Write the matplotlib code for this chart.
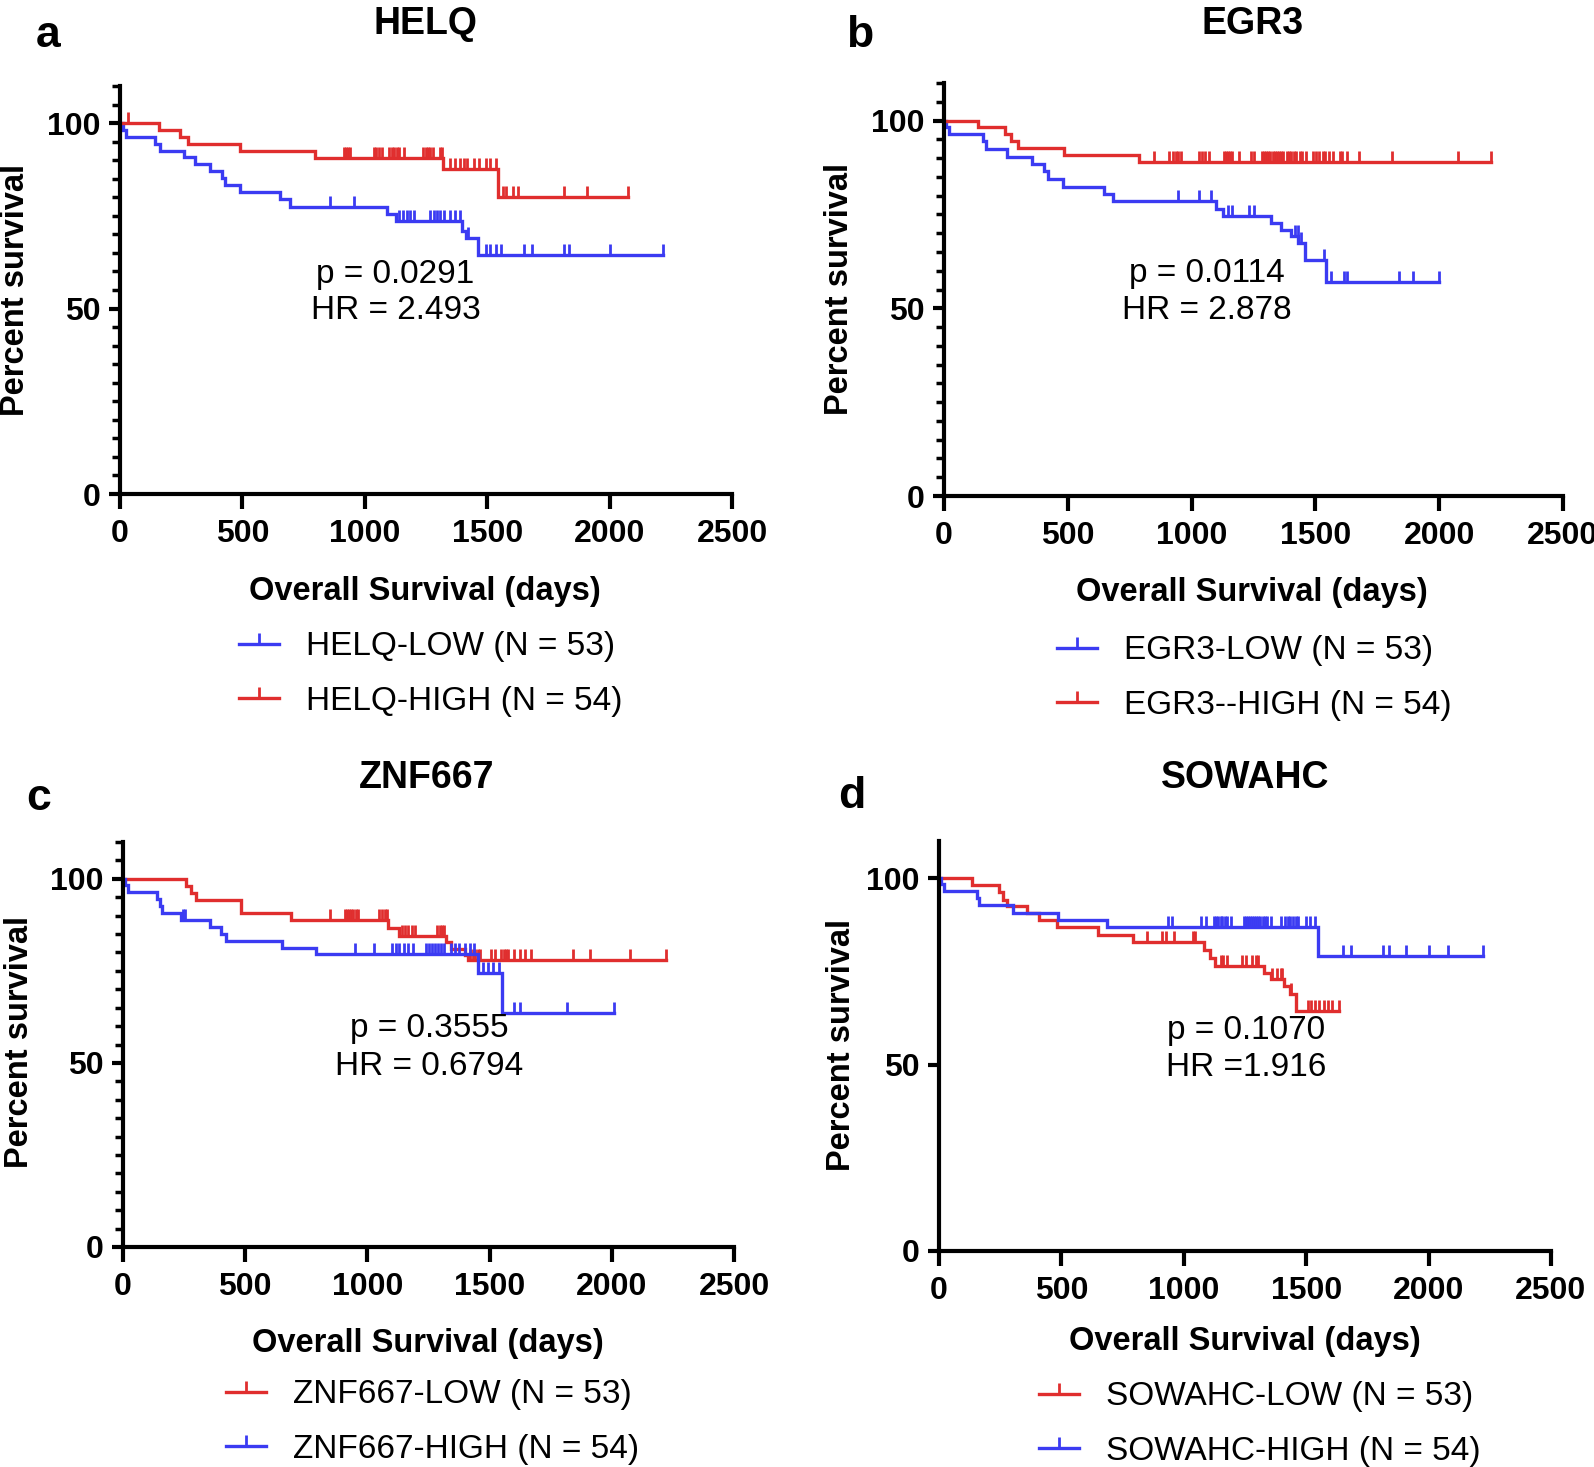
import numpy as np
import matplotlib
matplotlib.use('Agg')
import matplotlib.pyplot as plt
from matplotlib.lines import Line2D

plt.rcParams['font.family'] = ['Liberation Sans', 'DejaVu Sans']

BLUE = '#3b3bf2'
RED = '#e02e2e'

# Kaplan-Meier step curves: step times (days), survival (%) after each step,
# censored times (last one = end of follow-up)

# a - HELQ
helqLowT = [0, 14, 26, 145, 164, 263, 307, 366, 416, 430, 489, 654, 693, 1090, 1129, 1397, 1412, 1462]
helqLowS = [100, 98.1, 96.3, 94.4, 92.6, 90.8, 88.9, 87.0, 85.1, 83.2, 81.3, 79.4, 77.4, 75.4, 73.5, 71.0, 69.0, 64.5]
helqLowCens = [858, 957, 1139, 1155, 1171, 1185, 1199, 1268, 1282, 1296, 1309, 1323, 1347, 1367, 1387,
               1420, 1496, 1511, 1535, 1555, 1650, 1684, 1813, 1836, 2001, 2219]
helqHighT = [0, 158, 244, 277, 489, 798, 1321, 1545]
helqHighS = [100, 98.1, 96.3, 94.4, 92.6, 90.7, 87.7, 80.2]
helqHighCens = [34, 917, 925, 933, 941, 1036, 1044, 1060, 1070, 1100, 1110, 1120, 1130, 1139, 1159, 1238,
                1248, 1258, 1268, 1278, 1307, 1317, 1347, 1367, 1387, 1407, 1416, 1446, 1466, 1496, 1511,
                1535, 1565, 1575, 1605, 1624, 1813, 1908, 2076]

# b - EGR3
egr3LowT = [0, 8, 22, 158, 170, 255, 357, 403, 420, 481, 646, 684, 1097, 1126, 1321, 1360, 1400, 1430, 1460, 1543]
egr3LowS = [100, 98.4, 96.4, 94.5, 92.4, 90.4, 88.4, 86.5, 84.4, 82.4, 80.4, 78.7, 76.4, 74.5, 72.6, 70.9,
            69.2, 67.4, 62.9, 57.0]
egr3LowCens = [947, 1029, 1077, 1148, 1165, 1233, 1250, 1417, 1429, 1440, 1534, 1565, 1616, 1628, 1837, 1896, 1998]
egr3HighT = [0, 136, 247, 272, 298, 485, 787]
egr3HighS = [100, 98.2, 96.4, 94.5, 92.7, 90.8, 89.0]
egr3HighCens = [850, 910, 923, 935, 947, 957, 1029, 1043, 1054, 1071, 1131, 1139, 1148, 1156, 1165, 1190, 1241,
                1250, 1284, 1293, 1301, 1310, 1318, 1327, 1335, 1344, 1352, 1361, 1369, 1386, 1395, 1403, 1412,
                1420, 1437, 1446, 1463, 1491, 1502, 1514, 1531, 1539, 1556, 1573, 1599, 1607, 1628, 1675, 1811,
                2075, 2211]

# c - ZNF667
znfLowT = [0, 256, 277, 299, 484, 687, 1085, 1130, 1323, 1344, 1401, 1410]
znfLowS = [100, 98.1, 96.2, 94.3, 90.6, 88.7, 86.6, 84.6, 82.8, 81.0, 79.4, 78.0]
znfLowCens = [848, 908, 917, 926, 934, 943, 952, 960, 1047, 1061, 1073, 1081, 1142, 1154, 1168, 1182, 1194,
              1285, 1298, 1306, 1315, 1419, 1431, 1441, 1453, 1462, 1505, 1522, 1548, 1557, 1566, 1574, 1600,
              1626, 1644, 1670, 1843, 1912, 2076, 2223]
znfHighT = [0, 8, 22, 138, 151, 161, 237, 358, 403, 420, 649, 791, 1453, 1552]
znfHighS = [100, 98.2, 96.4, 94.6, 92.7, 90.8, 88.9, 87.0, 85.1, 83.2, 81.3, 79.5, 74.5, 63.5]
znfHighCens = [247, 254, 948, 1029, 1102, 1116, 1130, 1151, 1168, 1185, 1240, 1251, 1263, 1275, 1289, 1303,
               1315, 1344, 1358, 1375, 1401, 1419, 1436, 1471, 1493, 1514, 1540, 1600, 1626, 1817, 2007]

# d - SOWAHC
sowLowT = [0, 134, 246, 262, 278, 360, 410, 484, 651, 792, 1081, 1107, 1129, 1327, 1356, 1408, 1434, 1460]
sowLowS = [100, 98.1, 96.2, 94.3, 92.5, 90.6, 88.7, 86.8, 84.9, 82.9, 80.8, 78.6, 76.4, 74.6, 73.0, 71.2, 69.0, 64.4]
sowLowCens = [849, 909, 926, 960, 1038, 1046, 1150, 1162, 1176, 1236, 1253, 1279, 1296, 1305, 1361, 1379, 1396,
              1403, 1437, 1506, 1520, 1537, 1554, 1571, 1589, 1606, 1632]
sowHighT = [0, 8, 22, 157, 165, 301, 487, 688, 1549]
sowHighS = [100, 98.4, 96.6, 94.6, 92.7, 90.8, 88.8, 87.0, 79.2]
sowHighCens = [935, 952, 1072, 1090, 1124, 1133, 1141, 1150, 1158, 1167, 1176, 1193, 1244, 1253, 1262, 1270,
               1279, 1287, 1296, 1305, 1313, 1322, 1330, 1339, 1356, 1399, 1413, 1425, 1434, 1447, 1460, 1468,
               1499, 1516, 1537, 1649, 1683, 1812, 1838, 1907, 2002, 2079, 2222]

W, H = 1594, 1467
fig = plt.figure(figsize=(W / 100, H / 100), dpi=100)

LW = 2.4      # curve width
TICK_MS = 8   # censor tick length


def px(x, y):
    return x / W, 1 - y / H


def plotcurve(ax, times, surv, cens, color):
    t = list(times) + [max(cens)]
    s = list(surv) + [surv[-1]]
    ax.step(t, s, where='post', color=color, lw=LW, solid_joinstyle='miter')
    idx = np.searchsorted(times, cens, side='right') - 1
    ax.plot(cens, np.array(surv)[idx], linestyle='none', marker=2, ms=TICK_MS, mew=2, color=color)


def makepanel(box, minor):
    l, r, t, b = box
    ax = fig.add_axes([l / W, 1 - b / H, (r - l) / W, (b - t) / H])
    ax.set_xlim(0, 2500)
    ax.set_ylim(0, 110)
    ax.spines[['top', 'right']].set_visible(False)
    for sp in ['left', 'bottom']:
        ax.spines[sp].set_linewidth(3)
    ax.set_xticks([0, 500, 1000, 1500, 2000, 2500])
    ax.set_yticks([0, 50, 100])
    if minor:
        ax.set_yticks(np.arange(0, 111, 5), minor=True)
    ax.tick_params(axis='x', which='major', length=11, width=3, labelsize=23, pad=7)
    ax.tick_params(axis='y', which='major', length=8, width=3, labelsize=23, pad=6)
    ax.tick_params(axis='y', which='minor', length=5.5, width=2.5)
    for lab in ax.get_xticklabels() + ax.get_yticklabels():
        lab.set_fontweight('bold')
    return ax


panels = [
    # box (l, r, t, b) in pixels, minor ticks, title, letter, curves, legend labels, p / HR text
    dict(box=(120, 732, 86, 494), minor=True, title='HELQ', titlepos=(425, 33.5), letter='a', letterpos=(48, 47),
         xlab=(425, 600), ylab=(16, 290),
         curves=[(helqLowT, helqLowS, helqLowCens, BLUE), (helqHighT, helqHighS, helqHighCens, RED)],
         labels=['HELQ-LOW (N = 53)', 'HELQ-HIGH (N = 54)'], leg=(239, 674),
         stats=('p = 0.0291', 'HR = 2.493'), statx=1125, staty=(57.0, 47.1)),
    dict(box=(944, 1563, 83, 496), minor=True, title='EGR3', titlepos=(1253, 33.5), letter='b', letterpos=(860, 47),
         xlab=(1252, 601), ylab=(839, 289),
         curves=[(egr3LowT, egr3LowS, egr3LowCens, BLUE), (egr3HighT, egr3HighS, egr3HighCens, RED)],
         labels=['EGR3-LOW (N = 53)', 'EGR3--HIGH (N = 54)'], leg=(1057, 678),
         stats=('p = 0.0114', 'HR = 2.878'), statx=1061, staty=(56.9, 47.2)),
    dict(box=(123, 734, 842, 1247), minor=True, title='ZNF667', titlepos=(427, 788), letter='c', letterpos=(39, 810),
         xlab=(428, 1352), ylab=(20, 1042),
         curves=[(znfLowT, znfLowS, znfLowCens, RED), (znfHighT, znfHighS, znfHighCens, BLUE)],
         labels=['ZNF667-LOW (N = 53)', 'ZNF667-HIGH (N = 54)'], leg=(226, 1422),
         stats=('p = 0.3555', 'HR = 0.6794'), statx=1254, staty=(57.0, 46.8)),
    dict(box=(939, 1551, 841, 1251), minor=False, title='SOWAHC', titlepos=(1245, 788), letter='d', letterpos=(852, 808),
         xlab=(1245, 1350), ylab=(842, 1045),
         curves=[(sowLowT, sowLowS, sowLowCens, RED), (sowHighT, sowHighS, sowHighCens, BLUE)],
         labels=['SOWAHC-LOW (N = 53)', 'SOWAHC-HIGH (N = 54)'], leg=(1039, 1424),
         stats=('p = 0.1070', 'HR =1.916'), statx=1256, staty=(56.9, 46.9)),
]

for p in panels:
    ax = makepanel(p['box'], p['minor'])
    handles = []
    for times, surv, cens, color in p['curves']:
        plotcurve(ax, times, surv, cens, color)
        handles.append(Line2D([], [], color=color, lw=LW, marker=2, ms=TICK_MS, mew=2))
    ax.text(p['statx'], p['staty'][0], p['stats'][0], ha='center', va='baseline', fontsize=24)
    ax.text(p['statx'], p['staty'][1], p['stats'][1], ha='center', va='baseline', fontsize=24)

    fig.text(*px(*p['titlepos']), p['title'], ha='center', va='baseline', fontsize=27, fontweight='bold')
    fig.text(*px(*p['letterpos']), p['letter'], ha='center', va='baseline', fontsize=32, fontweight='bold')
    fig.text(*px(*p['xlab']), 'Overall Survival (days)', ha='center', va='baseline', fontsize=23.5,
             fontweight='bold')
    fig.text(*px(*p['ylab']), 'Percent survival', ha='center', va='center', rotation=90, fontsize=23.5,
             fontweight='bold')
    fig.legend(handles, p['labels'], loc='center left', bbox_to_anchor=px(*p['leg']), frameon=False,
               borderpad=0, borderaxespad=0, fontsize=24, handlelength=1.2, handletextpad=0.8,
               labelspacing=0.7)

fig.savefig('out.png', dpi=100)
